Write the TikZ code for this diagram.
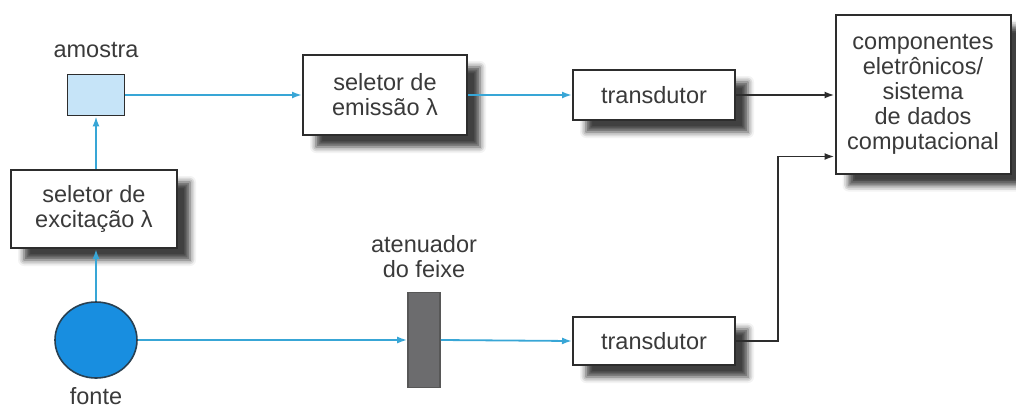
\documentclass[tikz,border=0pt]{standalone}
\usepackage{fontspec}
\setmainfont{Liberation Sans}
\usepackage{tikz}
\usetikzlibrary{arrows.meta,shapes.geometric,positioning,shadows.blur}
\definecolor{beamblue}{RGB}{56,166,214}
\definecolor{srcblue}{RGB}{24,142,224}
\definecolor{samplebg}{RGB}{198,228,248}
\definecolor{boxline}{RGB}{45,45,45}
\definecolor{txtgray}{RGB}{58,58,58}
\definecolor{attgray}{RGB}{108,108,110}

\begin{document}
\begin{tikzpicture}[
    x=1pt, y=-1pt,
    every node/.style={font=\fontsize{23.5}{25}\selectfont, text=txtgray},
    block/.style={draw=boxline, line width=2pt, fill=white, align=center,
                  inner sep=0pt,
                  blur shadow={shadow xshift=13pt, shadow yshift=-12pt,
                               shadow blur radius=6pt, shadow opacity=75}},
    lbl/.style={inner sep=0pt, align=center},
    beam/.style={beamblue, line width=1.8pt, -{Latex[length=10pt,width=7pt]}},
    sig/.style={boxline, line width=1.8pt, -{Latex[length=10pt,width=7pt]}}
]
\useasboundingbox (0,0) rectangle (1016,410);

% light path
\node[ellipse, draw=boxline!80!srcblue, line width=1.6pt, fill=srcblue,
      minimum width=82pt, minimum height=76pt] (fonte) at (96,340) {};
\node[block, minimum width=166pt, minimum height=78pt] (exc) at (94,209)
    {seletor de\\excitação λ};
\node[draw=boxline, line width=1.8pt, fill=samplebg,
      minimum width=57pt, minimum height=41pt] (amostra) at (96,95) {};
\node[block, minimum width=164pt, minimum height=80pt] (emi) at (385,95)
    {seletor de\\emissão λ};
\node[block, minimum width=162pt, minimum height=50pt] (td1) at (654,95)
    {transdutor};
\node[draw=boxline!80, line width=1.6pt, fill=attgray,
      minimum width=32pt, minimum height=95pt] (aten) at (424,340) {};
\node[block, minimum width=162pt, minimum height=48pt] (td2) at (654,341)
    {transdutor};
\node[block, minimum width=175pt, minimum height=159pt] (comp) at (923,94)
    {componentes\\eletrônicos/\\sistema\\de dados\\computacional};

% labels
\node[lbl, above=16pt of amostra] (amostralbl) {amostra};
\node[lbl, below=8pt of fonte] (fontelbl) {fonte};
\node[lbl, above=14pt of aten] (atenlbl) {atenuador\\do feixe};

% connectors
\draw[beam] (fonte.north) -- (fonte.north |- exc.south);
\draw[beam] (amostra.south |- exc.north) -- (amostra.south);
\draw[beam] (amostra.east) -- (emi.west);
\draw[beam] (emi.east) -- (td1.west);
\draw[beam] (fonte.east) -- (aten.west);
\draw[beam] (aten.east) -- (td2.west);
\draw[sig] (td1.east) -- (td1.east -| comp.west);
\draw[sig] (td2.east) -- ++(42,0) |- ([yshift=18pt]comp.south west);
\end{tikzpicture}
\end{document}
